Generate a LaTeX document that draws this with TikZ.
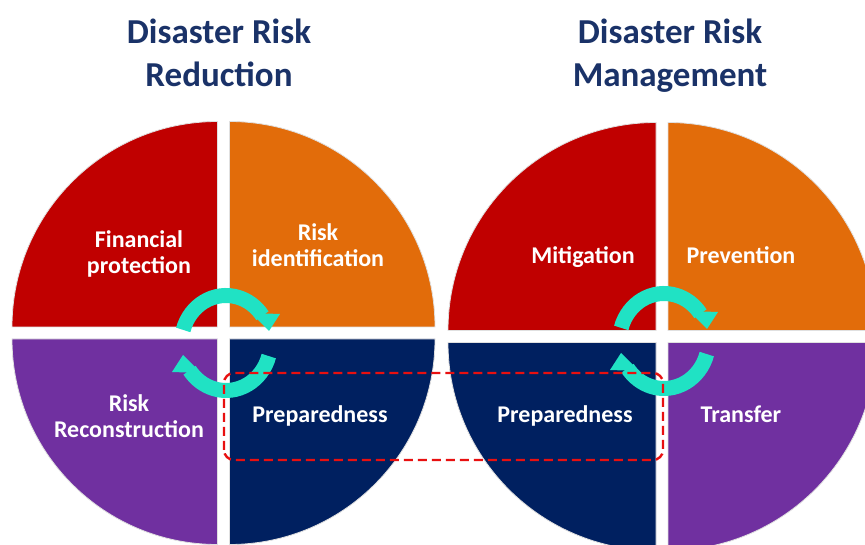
\documentclass[tikz,border=0pt]{standalone}
\usepackage{fontspec}
\setmainfont{Carlito}
\usetikzlibrary{calc}

\definecolor{qred}{RGB}{192,0,0}
\definecolor{qorange}{RGB}{226,108,10}
\definecolor{qpurple}{RGB}{112,48,160}
\definecolor{qnavy}{RGB}{0,32,96}
\definecolor{cycteal}{RGB}{32,226,196}
\definecolor{titleblue}{RGB}{26,50,104}
\definecolor{boxred}{RGB}{232,16,16}

% one quarter of a split disc: colour, corner, start angle, radius
\newcommand{\quadwedge}[4]{%
  \filldraw[quadpiece, fill=#1] #2 -- ++(#3:#4) arc[start angle=#3, delta angle=90, radius=#4] -- cycle;}

\begin{document}
\begin{tikzpicture}[x=1pt, y=1pt,
  quadpiece/.style={draw=black!12, line width=0.8pt},
  qlabel/.style={text=white, font=\bfseries\fontsize{24}{26.5}\selectfont, align=center, inner sep=0pt},
  titletext/.style={text=titleblue, font=\bfseries\fontsize{35}{43}\selectfont, align=center, inner sep=0pt},
  arrowbody/.style={draw=cycteal, line width=15pt},
  dashbox/.style={draw=boxred, dash pattern=on 9pt off 5pt, line width=2.4pt, rounded corners=10pt},
  pics/cyclearrows/.style={code={
    \draw[arrowbody] (164:44.5 and 47.5) arc[start angle=164, end angle=35, x radius=44.5, y radius=47.5];
    \fill[cycteal] (25,30) -- (54,29) -- (43,12) -- cycle;
    \draw[arrowbody] (-16:44.5 and 47.5) arc[start angle=-16, end angle=-145, x radius=44.5, y radius=47.5];
    \fill[cycteal] (-25,-30) -- (-54,-29) -- (-43,-12) -- cycle;
  }}]
\useasboundingbox (0,0) rectangle (865,545);
\fill[white] (0,0) rectangle (865,545);
\clip (0,0) rectangle (865,545);

% left disc: Disaster Risk Reduction
\quadwedge{qred}{(217.5,218)}{90}{205.5}
\quadwedge{qorange}{(229.5,218)}{0}{205.5}
\quadwedge{qpurple}{(217.5,206)}{180}{205.5}
\quadwedge{qnavy}{(229.5,206)}{270}{205.5}

% right disc: Disaster Risk Management
\quadwedge{qred}{(656,214.5)}{90}{208}
\quadwedge{qorange}{(668,214.5)}{0}{208}
\quadwedge{qnavy}{(656,202.5)}{180}{208}
\quadwedge{qpurple}{(668,202.5)}{270}{208}

% cycle arrows at the disc centres
\coordinate (cycL) at (226,202);
\coordinate (cycR) at (664,204);
\pic at (cycL) {cyclearrows};
\pic at (cycR) {cyclearrows};

% shared quadrant frame
\coordinate (boxSW) at (224,85);
\coordinate (boxNE) at (663,172);
\draw[dashbox] (boxSW) rectangle (boxNE);

% titles
\node[titletext] (titleL) at (219,492) {Disaster Risk\\Reduction};
\node[titletext] (titleR) at (670,489) {Disaster Risk\\Management};

% quadrant labels
\node[qlabel] (fin)   at (139,291) {Financial\\protection};
\node[qlabel] (rid)   at (318,300)   {Risk\\identification};
\node[qlabel] (rrc)   at (129,129) {Risk\\Reconstruction};
\node[qlabel, anchor=base] (prepL) at (320,122) {Preparedness};
\node[qlabel, anchor=base] (mit)   at (583,281) {Mitigation};
\node[qlabel, anchor=base] (prev)  at (741,281) {Prevention};
\node[qlabel, anchor=base] (prepR) at (565,122) {Preparedness};
\node[qlabel, anchor=base] (trans) at (741,122) {Transfer};
\end{tikzpicture}
\end{document}
